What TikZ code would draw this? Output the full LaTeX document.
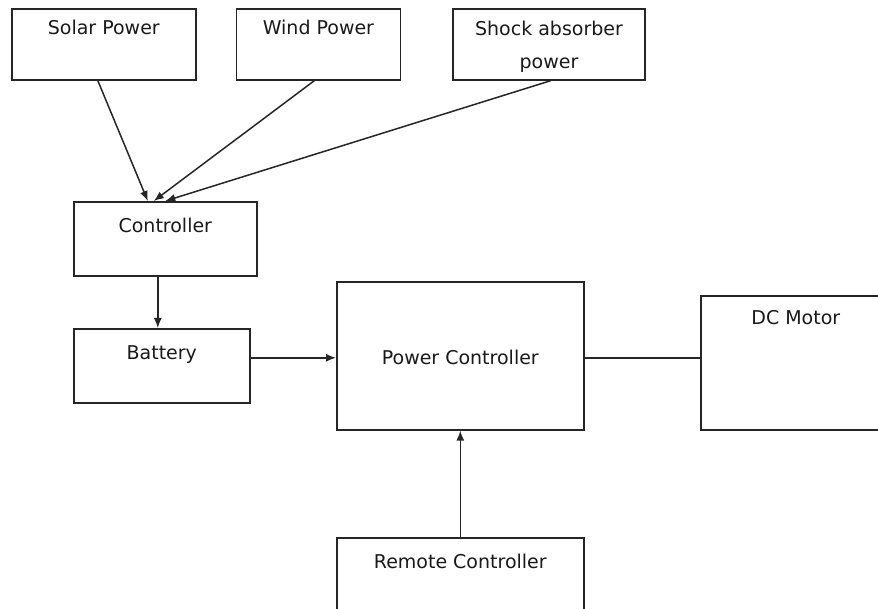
\documentclass[tikz,border=0pt]{standalone}
\usepackage{fontspec}
\setmainfont{DejaVu Sans}
\usetikzlibrary{positioning,arrows.meta}

\begin{document}
\begin{tikzpicture}[x=1pt,y=-1pt,
  box/.style={draw=black!85,line width=1.6pt,inner sep=0pt,anchor=north west},
  txt/.style={font=\fontsize{19}{33}\selectfont,inner sep=0pt,anchor=base,
              align=center,text=black!90},
  fl/.style={-{Latex[length=10pt,width=8pt]},black!85,line width=1.5pt}]
\useasboundingbox (0,0) rectangle (878,609);
% source boxes along the top
\node[box,minimum width=184pt,minimum height=71pt] (solar) at (11,8) {};
\node[box,minimum width=164pt,minimum height=71pt,right=39pt of solar] (wind) {};
\node[box,minimum width=192pt,minimum height=71pt,right=51pt of wind] (shock) {};
\node[box,minimum width=183pt,minimum height=74pt] (ctrl) at (73,201) {};
\node[box,minimum width=176pt,minimum height=74pt] (batt) at (73,328) {};
\node[box,minimum width=247pt,minimum height=148pt] (pc) at (336,281) {};
\node[box,minimum width=190pt,minimum height=134pt] (dc) at (700,295) {};
\node[box,minimum width=247pt,minimum height=100pt] (remote) at (336,537) {};
% texts
\node[txt] (tsolar) at ([yshift=-27pt]solar.north) {Solar Power};
\node[txt] (twind) at ([yshift=-27pt]wind.north) {Wind Power};
\node[txt,anchor=north] (tshock) at ([yshift=-12.6pt]shock.north) {Shock absorber\\power};
\node[txt] (tctrl) at ([yshift=-32pt]ctrl.north) {Controller};
\node[txt] (tbatt) at ([yshift=-32pt]batt.north) {Battery};
\node[txt] (tpc) at ([yshift=-84pt]pc.north) {Power Controller};
\node[txt] (tdc) at ([yshift=-30pt]dc.north) {DC Motor};
\node[txt] (tremote) at ([yshift=-31pt]remote.north) {Remote Controller};
% connectors
\draw[fl] ([xshift=-6pt]solar.south) -- ([xshift=-17.5pt]ctrl.north);
\draw[fl] ([xshift=-4pt]wind.south) -- ([xshift=-11.5pt]ctrl.north);
\draw[fl] ([xshift=2pt]shock.south) -- ([xshift=0pt]ctrl.north);
\draw[fl] ([xshift=-7.5pt]ctrl.south) -- ([xshift=-4pt]batt.north);
\draw[fl] ([yshift=8pt]batt.east) -- ([yshift=8pt]batt.east -| pc.west);
\draw[black!85,line width=1.5pt] ([yshift=-2pt]pc.east) -- ([yshift=-2pt]pc.east -| dc.west);
\draw[fl] (remote.north) -- (pc.south);
\end{tikzpicture}
\end{document}
